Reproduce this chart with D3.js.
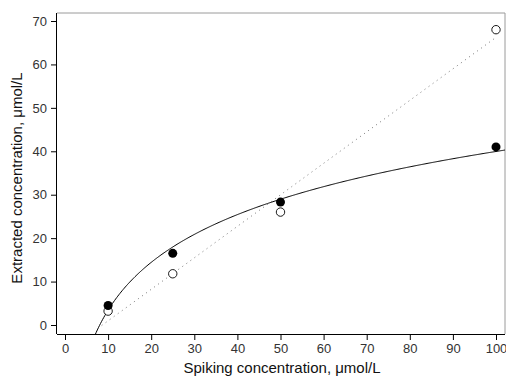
<!DOCTYPE html>
<html>
<head>
<meta charset="utf-8">
<script src="https://cdn.jsdelivr.net/npm/d3@7"></script>
<style>
  html, body { margin: 0; padding: 0; background: #fff; }
  svg { display: block; }
  text { font-family: "Liberation Sans", Arial, sans-serif; }
</style>
</head>
<body>
<svg id="chart" width="506" height="377"></svg>
<script>
// Spiking concentrations (µmol/L)
const spiking = [10, 25, 50, 100];
// Extracted concentration, filled markers (logarithmic trend)
const extractedFilled = [4.5, 16.5, 28.3, 41.0];
// Extracted concentration, open markers (linear trend)
const extractedOpen = [3.2, 11.8, 26.0, 68.0];
const xTicks = [0, 10, 20, 30, 40, 50, 60, 70, 80, 90, 100];
const yTicks = [0, 10, 20, 30, 40, 50, 60, 70];

const svg = d3.select("#chart");
const box = { left: 57, top: 13, right: 505, bottom: 334 };

const x = d3.scaleLinear().domain([0, 100]).range([65, 496]);
const y = d3.scaleLinear().domain([0, 70]).range([325, 21]);

// clip region for fitted lines
svg.append("clipPath").attr("id", "plotClip")
  .append("rect")
  .attr("x", box.left).attr("y", box.top)
  .attr("width", box.right - box.left).attr("height", box.bottom - box.top);

// frame: top and right in gray
svg.append("path")
  .attr("d", `M${box.left},${box.top}H${box.right}V${box.bottom}`)
  .attr("fill", "none").attr("stroke", "#9a9a9a").attr("stroke-width", 1);

// x axis
const xAxis = svg.append("g")
  .attr("transform", `translate(0,${box.bottom})`)
  .call(d3.axisBottom(x).tickValues(xTicks).tickSize(6).tickPadding(4));
xAxis.select(".domain").attr("d", `M${box.left},0.5H${box.right}`).attr("stroke", "#000");

// y axis
const yAxis = svg.append("g")
  .attr("transform", `translate(${box.left},0)`)
  .call(d3.axisLeft(y).tickValues(yTicks).tickSize(6).tickPadding(4));
yAxis.select(".domain").attr("d", `M-0.5,${box.top}V${box.bottom}`).attr("stroke", "#000");

[xAxis, yAxis].forEach(g => {
  g.selectAll(".tick line").attr("stroke", "#000");
  g.selectAll(".tick text")
    .attr("font-family", "'Liberation Sans', Arial, sans-serif")
    .attr("font-size", 13).attr("fill", "#333");
});

// least-squares fits
const lnx = spiking.map(Math.log);
function linFit(xs, ys) {
  const mx = d3.mean(xs), my = d3.mean(ys);
  const sxy = d3.sum(xs, (v, i) => (v - mx) * (ys[i] - my));
  const sxx = d3.sum(xs, v => (v - mx) * (v - mx));
  const b = sxy / sxx;
  return { a: my - b * mx, b };
}
const logFit = linFit(lnx, extractedFilled);
const straightFit = linFit(spiking, extractedOpen);

const plot = svg.append("g").attr("clip-path", "url(#plotClip)");

// logarithmic curve
const curvePts = d3.range(6, 103.01, 0.25).map(v => [v, logFit.a + logFit.b * Math.log(v)]);
plot.append("path")
  .datum(curvePts)
  .attr("d", d3.line().x(d => x(d[0])).y(d => y(d[1])))
  .attr("fill", "none").attr("stroke", "#000").attr("stroke-width", 1);

// linear trend, dotted
const linePts = [8.5, 100].map(v => [v, straightFit.a + straightFit.b * v]);
plot.append("path")
  .datum(linePts)
  .attr("d", d3.line().x(d => x(d[0])).y(d => y(d[1])))
  .attr("fill", "none").attr("stroke", "#777").attr("stroke-width", 1)
  .attr("stroke-dasharray", "1,4");

// open markers
svg.append("g").selectAll("circle")
  .data(spiking.map((v, i) => [v, extractedOpen[i]]))
  .join("circle")
  .attr("cx", d => x(d[0])).attr("cy", d => y(d[1])).attr("r", 4.2)
  .attr("fill", "#fff").attr("stroke", "#000").attr("stroke-width", 0.9);

// filled markers
svg.append("g").selectAll("circle")
  .data(spiking.map((v, i) => [v, extractedFilled[i]]))
  .join("circle")
  .attr("cx", d => x(d[0])).attr("cy", d => y(d[1])).attr("r", 4.5)
  .attr("fill", "#000");

// axis titles
svg.append("text")
  .attr("x", 282).attr("y", 373)
  .attr("text-anchor", "middle").attr("font-size", 15).attr("fill", "#111")
  .text("Spiking concentration, μmol/L");

svg.append("text")
  .attr("transform", "translate(22,178) rotate(-90)")
  .attr("text-anchor", "middle").attr("font-size", 15).attr("fill", "#111")
  .text("Extracted concentration, μmol/L");
</script>
</body>
</html>
